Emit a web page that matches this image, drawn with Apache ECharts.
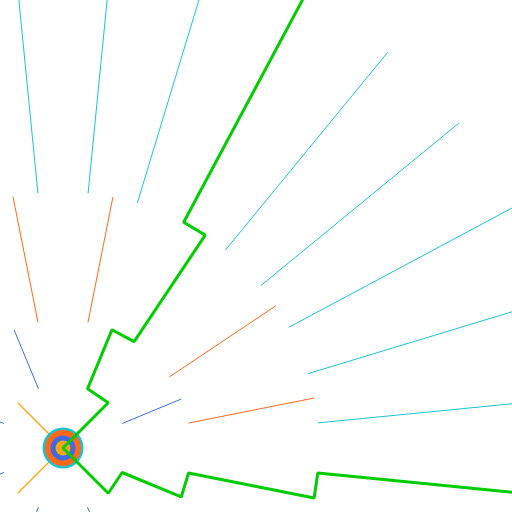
<!DOCTYPE html>
<html>
<head>
<meta charset="utf-8">
<script src="https://cdn.jsdelivr.net/npm/echarts@6/dist/echarts.min.js"></script>
<style>
html, body { margin: 0; padding: 0; background: #fff; }
#main { width: 512px; height: 512px; }
</style>
</head>
<body>
<div id="main"></div>
<script>
// ring edges (radius in px) and how many sectors each ring has
var ringEdges = [0, 64, 128, 256, 512];
var ringCounts = [4, 8, 16, 32];
var ringStart = [45, 22.5, 11.25, 5.625];
var ringColors = ['#ffa500', '#4169e1', '#ff6a1a', '#1cc3cf'];

// green path: radius / angle (deg, counter clockwise from east)
var pathRadius = [512, 256, 256, 128, 128, 64, 64, 0, 64, 64, 128, 128, 256, 256, 512];
var pathAngle = [61.875, 61.875, 56.25, 56.25, 67.5, 67.5, 45, 0, 315, 337.5, 337.5, 348.75, 348.75, 354.375, 354.375];

// the little target in the middle
var dotSizes = [41, 36, 25, 15];
var dotColors = ['#1cc3cf', '#ff6a1a', '#4169e1', '#ffa500'];

(function() {
    "use strict";
    var center = [63, 448];
    var polar = [], angleAxis = [], radiusAxis = [], series = [];

    for (var k = 0; k < ringCounts.length; k++) {
        polar.push({ center: center, radius: [ringEdges[k], ringEdges[k + 1]] });
        // value axis 0..360, one split line per sector edge
        angleAxis.push({
            polarIndex: k,
            type: 'value',
            min: 0,
            max: 360,
            interval: 360 / ringCounts[k],
            startAngle: ringStart[k],
            axisLine: { show: false },
            axisTick: { show: false },
            axisLabel: { show: false },
            // inner diagonals come out too faint at 1px
            splitLine: { show: true, lineStyle: { color: ringColors[k], width: k == 0 ? 1.3 : 1 } }
        });
        radiusAxis.push({
            polarIndex: k,
            type: 'value',
            axisLine: { show: false },
            axisTick: { show: false },
            axisLabel: { show: false },
            splitLine: { show: false }
        });
    }

    // one more polar for the path + target, radius value == pixels
    var pi = ringCounts.length;
    polar.push({ center: center, radius: [0, 512] });
    angleAxis.push({
        polarIndex: pi, type: 'value', min: 0, max: 360, startAngle: 0, clockwise: false,
        axisLine: { show: false }, axisTick: { show: false }, axisLabel: { show: false }, splitLine: { show: false }
    });
    radiusAxis.push({
        polarIndex: pi, type: 'value', min: 0, max: 512,
        axisLine: { show: false }, axisTick: { show: false }, axisLabel: { show: false }, splitLine: { show: false }
    });

    for (var d = 0; d < dotSizes.length; d++) {
        series.push({
            type: 'scatter',
            coordinateSystem: 'polar',
            polarIndex: pi,
            symbol: 'circle',
            symbolSize: dotSizes[d],
            z: 3 + d,
            itemStyle: { color: dotColors[d], opacity: 1 },
            data: [[0, 0]]
        });
    }

    var pathData = [];
    for (var i = 0; i < pathRadius.length; i++) {
        pathData.push([pathRadius[i], pathAngle[i]]);
    }
    series.push({
        type: 'line',
        coordinateSystem: 'polar',
        polarIndex: pi,
        showSymbol: false,
        z: 10,
        lineStyle: { color: '#00cc00', width: 3 },
        data: pathData
    });

    var myChart = echarts.init(document.getElementById('main'));
    myChart.setOption({
        animation: false,
        backgroundColor: '#fff',
        polar: polar,
        angleAxis: angleAxis,
        radiusAxis: radiusAxis,
        series: series
    });
})();
</script>
</body>
</html>
